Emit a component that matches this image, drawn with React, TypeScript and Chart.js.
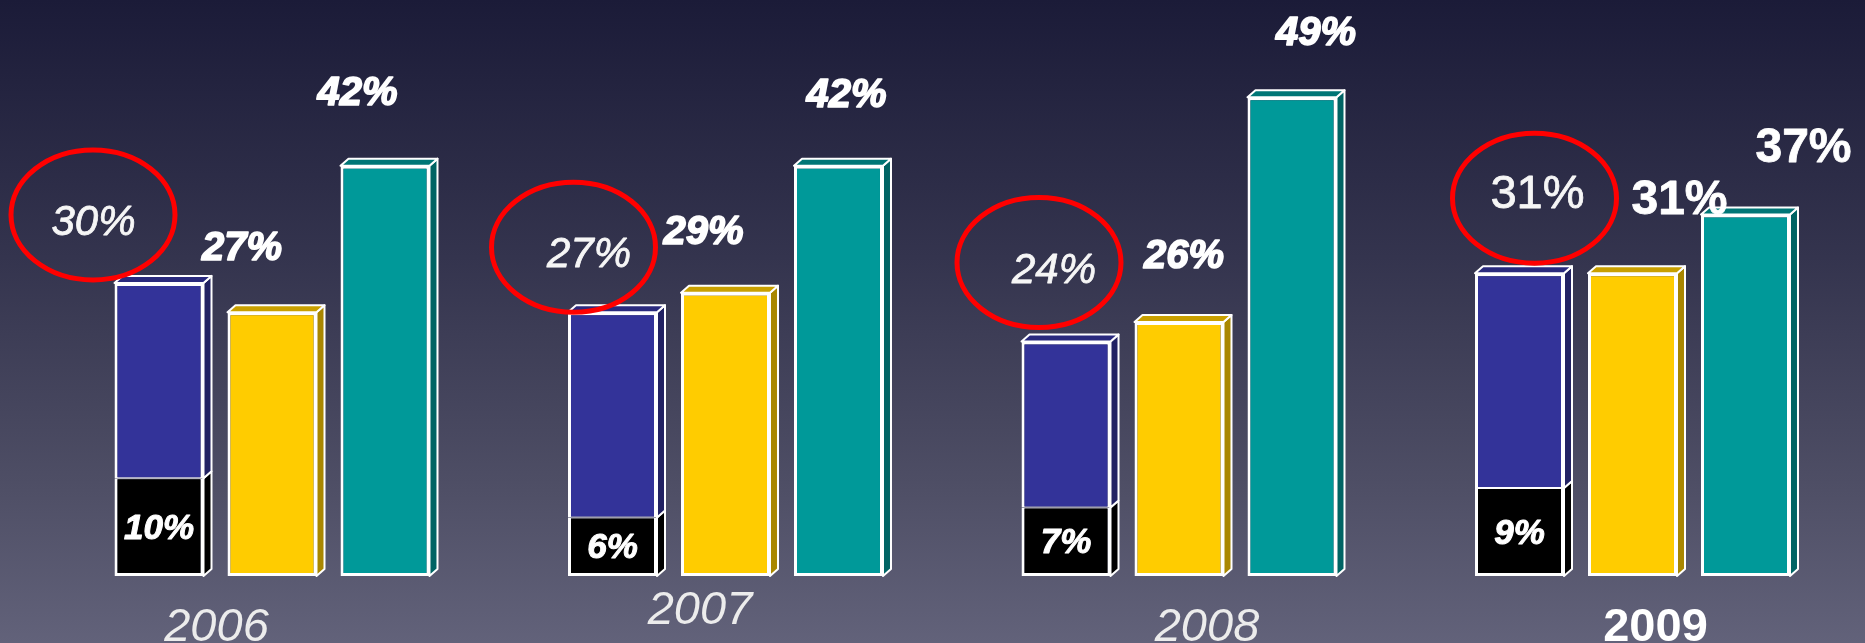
import React, { useEffect, useRef } from "react";
import { Chart, registerables } from "chart.js";

Chart.register(...registerables);

// ---- data ----
const years = ["2006", "2007", "2008", "2009"];
const blackShare = [10, 6, 7, 9];
const blueTotal = [30, 27, 24, 31];
const yellowShare = [27, 29, 26, 31];
const tealShare = [42, 42, 49, 37];
const blueSegment = blueTotal.map((t, i) => t - blackShare[i]);

// ---- label layout (offsets relative to bar top-centre, px) ----
const blueLabelOffset = [[-65.5, -63], [-23.5, -60.5], [-12, -74], [18, -82]];
const ellipseOffset = [[-66, -68], [-39, -65], [-27, -79], [15, -75]];
const yellowLabelOffset = [[-30, -67], [-22, -63], [5, -68], [47, -76]];
const tealLabelOffset = [[-27.5, -75], [8, -73], [24, -67], [58, -70]];
const yearOffset = [[-55.5, 48], [-25.5, 31], [28, 48], [23, 48]];
const groupUpright = [false, false, false, true];

const FONT = '"Liberation Sans", Arial, sans-serif';

const COLORS = {
  black: { front: "#000000", side: "#000000", top: "#000000" },
  blue: { front: "#333399", side: "#222263", top: "#2a2a7e" },
  yellow: { front: "#ffcc00", side: "#a98700", top: "#c9a000" },
  teal: { front: "#009999", side: "#006464", top: "#007676" },
};
const faceColors = [COLORS.black, COLORS.blue, COLORS.yellow, COLORS.teal];
const hasTopFace = [false, true, true, true];

const DEPTH_X = 8;
const DEPTH_Y = 7;

function barRect(el: any) {
  const p = el.getProps(["x", "y", "base", "width"], true);
  return {
    left: p.x - p.width / 2,
    right: p.x + p.width / 2,
    top: Math.min(p.y, p.base),
    bottom: Math.max(p.y, p.base),
    cx: p.x,
  };
}

const threeD = {
  id: "threeD",
  afterDatasetsDraw(chart: any) {
    const ctx = chart.ctx;
    ctx.save();
    ctx.lineWidth = 2;
    ctx.strokeStyle = "#ffffff";
    ctx.lineJoin = "round";
    chart.data.datasets.forEach((_: any, di: number) => {
      const meta = chart.getDatasetMeta(di);
      meta.data.forEach((el: any) => {
        const r = barRect(el);
        ctx.beginPath();
        ctx.moveTo(r.right, r.top);
        ctx.lineTo(r.right + DEPTH_X, r.top - DEPTH_Y);
        ctx.lineTo(r.right + DEPTH_X, r.bottom - DEPTH_Y);
        ctx.lineTo(r.right, r.bottom);
        ctx.closePath();
        ctx.fillStyle = faceColors[di].side;
        ctx.fill();
        ctx.stroke();
        if (hasTopFace[di]) {
          ctx.beginPath();
          ctx.moveTo(r.left, r.top);
          ctx.lineTo(r.left + DEPTH_X, r.top - DEPTH_Y);
          ctx.lineTo(r.right + DEPTH_X, r.top - DEPTH_Y);
          ctx.lineTo(r.right, r.top);
          ctx.closePath();
          ctx.fillStyle = faceColors[di].top;
          ctx.fill();
          ctx.stroke();
        }
      });
    });
    ctx.restore();
  },
};

function drawText(ctx: any, text: string, x: number, yCenter: number, size: number, bold: boolean, italic: boolean, color = "#ffffff", thicken = 0) {
  ctx.font = `${italic ? "italic " : ""}${bold ? "bold " : ""}${size}px ${FONT}`;
  ctx.fillStyle = color;
  ctx.textAlign = "center";
  ctx.textBaseline = "alphabetic";
  const y = yCenter + size * 0.358;
  if (thicken > 0) {
    ctx.lineWidth = thicken;
    ctx.strokeStyle = color;
    ctx.lineJoin = "round";
    ctx.strokeText(text, x, y);
  }
  ctx.fillText(text, x, y);
}

const labels = {
  id: "labels",
  afterDraw(chart: any) {
    const ctx = chart.ctx;
    const blackMeta = chart.getDatasetMeta(0);
    const blueMeta = chart.getDatasetMeta(1);
    const yellowMeta = chart.getDatasetMeta(2);
    const tealMeta = chart.getDatasetMeta(3);
    const xScale = chart.scales.x;
    const yScale = chart.scales.y;
    const base = yScale.getPixelForValue(0);
    ctx.save();
    years.forEach((yr, i) => {
      const upright = groupUpright[i];
      const blk = barRect(blackMeta.data[i]);
      const blu = barRect(blueMeta.data[i]);
      const yel = barRect(yellowMeta.data[i]);
      const tea = barRect(tealMeta.data[i]);

      drawText(ctx, `${blackShare[i]}%`, blk.cx, (blk.top + blk.bottom) / 2 - 1, 35, true, true, "#ffffff", 1);

      ctx.beginPath();
      ctx.ellipse(blu.cx + ellipseOffset[i][0], blu.top + ellipseOffset[i][1], 82, 65, 0, 0, Math.PI * 2);
      ctx.lineWidth = 5;
      ctx.strokeStyle = "#ff0000";
      ctx.stroke();

      drawText(ctx, `${blueTotal[i]}%`, blu.cx + blueLabelOffset[i][0], blu.top + blueLabelOffset[i][1],
        upright ? 47 : 42, false, !upright, "#f6f6f6", 0.8);

      drawText(ctx, `${yellowShare[i]}%`, yel.cx + yellowLabelOffset[i][0], yel.top + yellowLabelOffset[i][1],
        upright ? 48 : 40, true, !upright, "#ffffff", upright ? 0.8 : 1.6);
      drawText(ctx, `${tealShare[i]}%`, tea.cx + tealLabelOffset[i][0], tea.top + tealLabelOffset[i][1],
        upright ? 48 : 40, true, !upright, "#ffffff", upright ? 0.8 : 1.6);

      const cx = xScale.getPixelForValue(i);
      drawText(ctx, yr, cx + yearOffset[i][0], base + yearOffset[i][1], 47, upright, !upright,
        upright ? "#ffffff" : "#ececec");
    });
    ctx.restore();
  },
};

export default function App() {
  const ref = useRef<HTMLCanvasElement | null>(null);

  useEffect(() => {
    if (!ref.current) return;
    const border = (t: number, b: number) => ({ top: t, bottom: b, left: 3, right: 3 });
    const chart = new Chart(ref.current, {
      type: "bar",
      data: {
        labels: years,
        datasets: [
          {
            label: "black",
            data: blackShare,
            stack: "a",
            backgroundColor: COLORS.black.front,
            borderColor: "#ffffff",
            borderWidth: border(1, 3),
            borderSkipped: false,
          },
          {
            label: "blue",
            data: blueSegment,
            stack: "a",
            backgroundColor: COLORS.blue.front,
            borderColor: "#ffffff",
            borderWidth: border(3, 1),
            borderSkipped: false,
          },
          {
            label: "yellow",
            data: yellowShare,
            stack: "b",
            backgroundColor: COLORS.yellow.front,
            borderColor: "#ffffff",
            borderWidth: border(3, 3),
            borderSkipped: false,
          },
          {
            label: "teal",
            data: tealShare,
            stack: "c",
            backgroundColor: COLORS.teal.front,
            borderColor: "#ffffff",
            borderWidth: border(3, 3),
            borderSkipped: false,
          },
        ] as any,
      },
      options: {
        responsive: false,
        devicePixelRatio: 1,
        animation: false,
        categoryPercentage: 0.7475,
        barPercentage: 0.7876,
        layout: { padding: { left: 45.25, right: 5.75, top: 38.65, bottom: 67 } },
        scales: {
          x: { stacked: true, display: false },
          y: { stacked: true, display: false, min: 0, max: 55 },
        },
        plugins: { legend: { display: false }, tooltip: { enabled: false } },
      } as any,
      plugins: [threeD, labels],
    });
    return () => chart.destroy();
  }, []);

  return (
    <div
      style={{
        position: "fixed",
        left: 0,
        top: 0,
        width: 1865,
        height: 643,
        background: "linear-gradient(to bottom, #1b1b38 0%, #34344e 40%, #4e4e65 75%, #62627a 100%)",
      }}
    >
      <canvas ref={ref} width={1865} height={643} style={{ display: "block" }} />
    </div>
  );
}
